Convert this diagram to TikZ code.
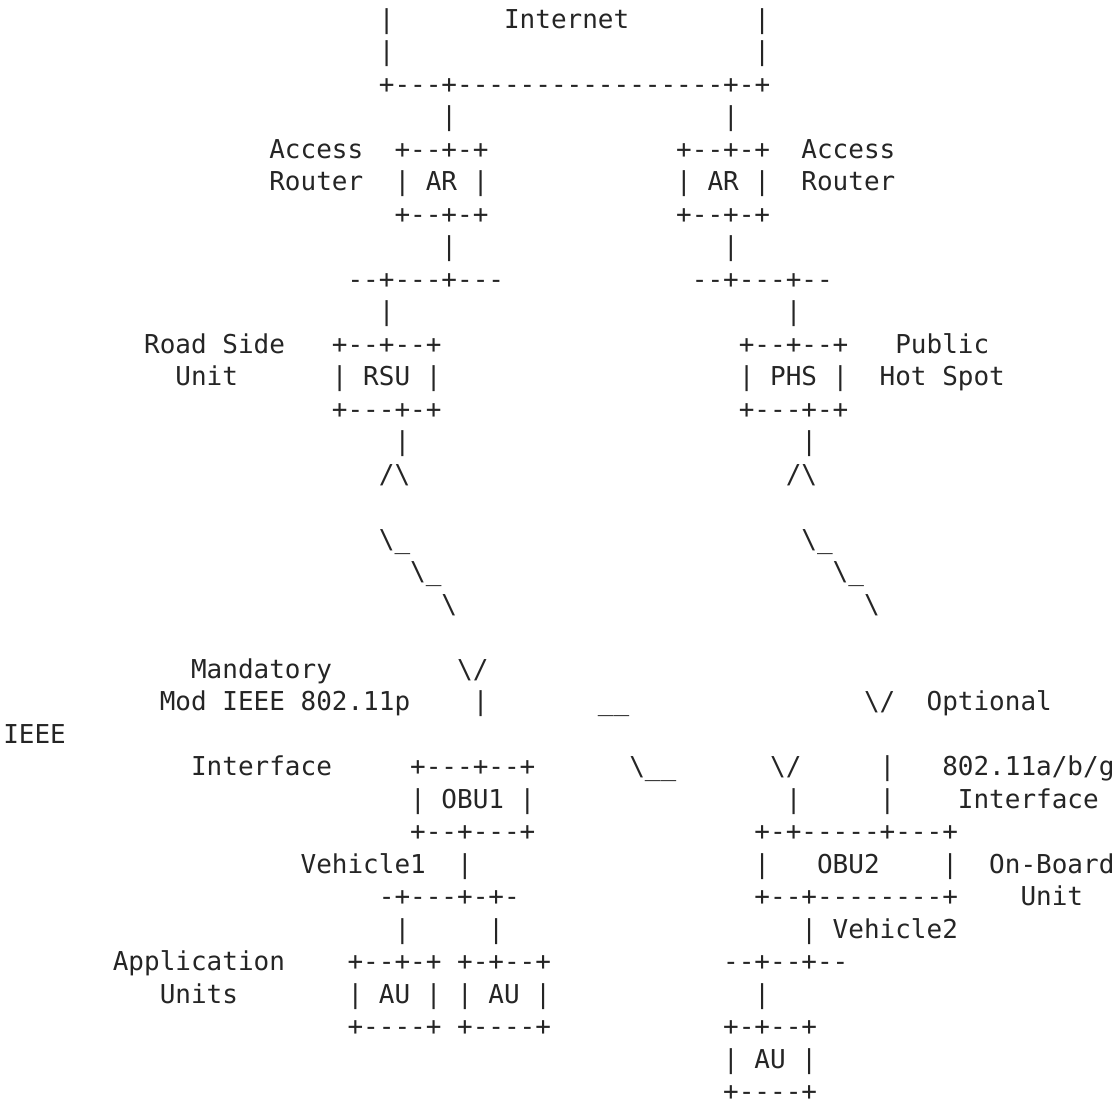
\documentclass[tikz,border=0pt]{standalone}
\usepackage{xcolor}
\usepackage{fontspec}
\setmonofont{DejaVu Sans Mono}
\usepackage{tikz}
\definecolor{ink}{HTML}{252525}

\begin{document}
\begin{tikzpicture}[x=11.7375pt,y=-24.375pt,
        asc/.style={anchor=base west,inner sep=0pt,text=ink,font=\ttfamily\fontsize{19.5pt}{24pt}\selectfont}]
        \useasboundingbox (-0.1917,0.1292) rectangle (71.12,34.006);

        % internet cloud
        \draw (24,1) node (inetL) [asc] {|};
        \draw (32,1) node (inet) [asc] {Internet};
        \draw (48,1) node (inetR) [asc] {|};
        \draw (24,2) node (inetL2) [asc] {|};
        \draw (48,2) node (inetR2) [asc] {|};
        \draw (24,3) node (inetB) [asc] {+---+-----------------+-+};

        % access routers
        \draw (28,4) node (upL) [asc] {|};
        \draw (46,4) node (upR) [asc] {|};
        \draw (17,5) node (accL) [asc] {Access};
        \draw (25,5) node (arLt) [asc] {+--+-+};
        \draw (43,5) node (arRt) [asc] {+--+-+};
        \draw (51,5) node (accR) [asc] {Access};
        \draw (17,6) node (rtrL) [asc] {Router};
        \draw (25,6) node (arL) [asc] {| AR |};
        \draw (43,6) node (arR) [asc] {| AR |};
        \draw (51,6) node (rtrR) [asc] {Router};
        \draw (25,7) node (arLb) [asc] {+--+-+};
        \draw (43,7) node (arRb) [asc] {+--+-+};
        \draw (28,8) node (dnL) [asc] {|};
        \draw (46,8) node (dnR) [asc] {|};
        \draw (22,9) node (lanL) [asc] {--+---+---};
        \draw (44,9) node (lanR) [asc] {--+---+--};
        \draw (24,10) node (lnkL) [asc] {|};
        \draw (50,10) node (lnkR) [asc] {|};

        % road side unit and hot spot
        \draw (9,11) node (rsuLbl) [asc] {Road Side};
        \draw (21,11) node (rsuT) [asc] {+--+--+};
        \draw (47,11) node (phsT) [asc] {+--+--+};
        \draw (57,11) node (phsLbl) [asc] {Public};
        \draw (11,12) node (rsuLbl2) [asc] {Unit};
        \draw (21,12) node (rsu) [asc] {| RSU |};
        \draw (47,12) node (phs) [asc] {| PHS |};
        \draw (56,12) node (phsLbl2) [asc] {Hot Spot};
        \draw (21,13) node (rsuB) [asc] {+---+-+};
        \draw (47,13) node (phsB) [asc] {+---+-+};
        \draw (25,14) node (antL) [asc] {|};
        \draw (51,14) node (antR) [asc] {|};
        \draw (24,15) node (antLt) [asc] {/\textbackslash};
        \draw (50,15) node (antRt) [asc] {/\textbackslash};

        % radio links
        \draw (24,17) node (wlL1) [asc] {\textbackslash\_};
        \draw (51,17) node (wlR1) [asc] {\textbackslash\_};
        \draw (26,18) node (wlL2) [asc] {\textbackslash\_};
        \draw (53,18) node (wlR2) [asc] {\textbackslash\_};
        \draw (28,19) node (wlL3) [asc] {\textbackslash};
        \draw (55,19) node (wlR3) [asc] {\textbackslash};

        % vehicle 1
        \draw (12,21) node (mandLbl) [asc] {Mandatory};
        \draw (29,21) node (obu1Ant) [asc] {\textbackslash/};
        \draw (10,22) node (modLbl) [asc] {Mod IEEE 802.11p};
        \draw (30,22) node (obu1Up) [asc] {|};
        \draw (38,22) node (v2vA) [asc] {\_\_};
        \draw (55,22) node (obu2AntA) [asc] {\textbackslash/};
        \draw (59,22) node (optLbl) [asc] {Optional};
        \draw (0,23) node (ieeeLbl) [asc] {IEEE};
        \draw (12,24) node (ifLbl) [asc] {Interface};
        \draw (26,24) node (obu1T) [asc] {+---+--+};
        \draw (40,24) node (v2vB) [asc] {\textbackslash\_\_};
        \draw (49,24) node (obu2AntB) [asc] {\textbackslash/};
        \draw (56,24) node (obu2UpA) [asc] {|};
        \draw (60,24) node (optLbl2) [asc] {802.11a/b/g};
        \draw (26,25) node (obu1) [asc] {| OBU1 |};
        \draw (50,25) node (obu2UpB) [asc] {|};
        \draw (56,25) node (obu2UpA2) [asc] {|};
        \draw (61,25) node (optLbl3) [asc] {Interface};
        \draw (26,26) node (obu1B) [asc] {+--+---+};
        \draw (48,26) node (obu2T) [asc] {+-+-----+---+};
        \draw (19,27) node (veh1) [asc] {Vehicle1};
        \draw (29,27) node (obu1Dn) [asc] {|};
        \draw (48,27) node (obu2L) [asc] {|};
        \draw (52,27) node (obu2) [asc] {OBU2};
        \draw (60,27) node (obu2R) [asc] {|};
        \draw (63,27) node (obuLbl) [asc] {On-Board};
        \draw (24,28) node (bus1) [asc] {-+---+-+-};
        \draw (48,28) node (obu2B) [asc] {+--+--------+};
        \draw (65,28) node (obuLbl2) [asc] {Unit};
        \draw (25,29) node (au1Up) [asc] {|};
        \draw (31,29) node (au2Up) [asc] {|};
        \draw (51,29) node (veh2) [asc] {| Vehicle2};

        % application units
        \draw (7,30) node (auLbl) [asc] {Application};
        \draw (22,30) node (au1T) [asc] {+--+-+};
        \draw (29,30) node (au2T) [asc] {+-+--+};
        \draw (46,30) node (bus2) [asc] {--+--+--};
        \draw (10,31) node (auLbl2) [asc] {Units};
        \draw (22,31) node (au1) [asc] {| AU |};
        \draw (29,31) node (au2) [asc] {| AU |};
        \draw (48,31) node (au3Up) [asc] {|};
        \draw (22,32) node (au1B) [asc] {+----+};
        \draw (29,32) node (au2B) [asc] {+----+};
        \draw (46,32) node (au3T) [asc] {+-+--+};
        \draw (46,33) node (au3) [asc] {| AU |};
        \draw (46,34) node (au3B) [asc] {+----+};
\end{tikzpicture}
\end{document}
